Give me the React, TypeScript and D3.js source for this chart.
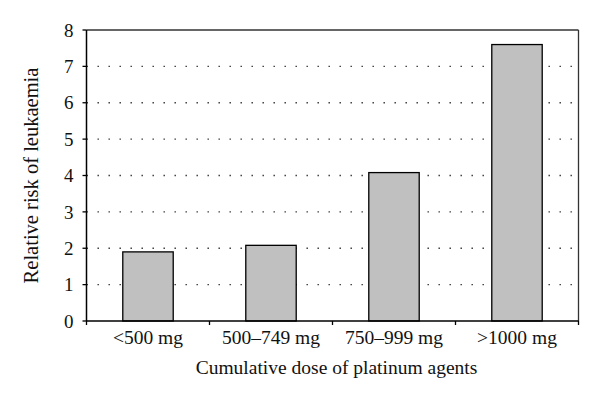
import React from "react";
import * as d3 from "d3";

const categories = ["<500 mg", "500–749 mg", "750–999 mg", ">1000 mg"];
const values = [1.9, 2.08, 4.08, 7.6];
const yTicks = [0, 1, 2, 3, 4, 5, 6, 7, 8];

export default function App() {
  const W = 600, H = 402;
  const left = 86.5, right = 578.5, top = 30, bottom = 321;
  const x = d3.scaleBand<string>().domain(categories).range([left, right]).paddingInner(0.59).paddingOuter(0.295);
  const xb = d3.scaleBand<string>().domain(categories).range([left, right]);
  const y = d3.scaleLinear().domain([0, 8]).range([bottom, top]);
  const font = "'Liberation Serif', 'DejaVu Serif', serif";
  return (
    <svg width={W} height={H} style={{ position: "absolute", left: 0, top: 0, background: "#fff" }}>
      {yTicks.filter(t => t > 0 && t < 8).map(t => (
        <line key={"g" + t} x1={left} x2={right} y1={y(t)} y2={y(t)} stroke="#333" strokeWidth={1.4} strokeDasharray="1.4,9.6" />
      ))}
      {categories.map((c, i) => (
        <rect key={c} x={x(c)} y={y(values[i])} width={x.bandwidth()} height={bottom - y(values[i])} fill="#c0c0c0" stroke="#000" strokeWidth={1.3} />
      ))}
      <line x1={left} x2={right} y1={top} y2={top} stroke="#333" strokeWidth={1.3} />
      <line x1={right} x2={right} y1={top} y2={bottom} stroke="#333" strokeWidth={1.3} />
      <line x1={left} x2={left} y1={top} y2={bottom} stroke="#000" strokeWidth={1.5} />
      <line x1={left} x2={right} y1={bottom} y2={bottom} stroke="#000" strokeWidth={1.5} />
      {yTicks.map(t => (
        <g key={"t" + t}>
          <line x1={left - 4} x2={left} y1={y(t)} y2={y(t)} stroke="#000" strokeWidth={1.3} />
          <text x={left - 13} y={y(t)} dy="0.35em" textAnchor="end" fontFamily={font} fontSize={19} fill="#111">{t}</text>
        </g>
      ))}
      {categories.map((c, i) => (
        <line key={"xt" + i} x1={(xb(c) as number)} x2={(xb(c) as number)} y1={bottom} y2={bottom + 4} stroke="#000" strokeWidth={1.3} />
      ))}
      <line x1={right} x2={right} y1={bottom} y2={bottom + 4} stroke="#000" strokeWidth={1.3} />
      {categories.map(c => (
        <text key={"xl" + c} x={(xb(c) as number) + xb.bandwidth() / 2} y={344} textAnchor="middle" fontFamily={font} fontSize={19.5} fill="#111">{c}</text>
      ))}
      <text x={(left + right) / 2 + 4} y={374} textAnchor="middle" fontFamily={font} fontSize={19.5} fill="#111">Cumulative dose of platinum agents</text>
      <text transform={`translate(38,${(top + bottom) / 2}) rotate(-90)`} textAnchor="middle" fontFamily={font} fontSize={20.5} fill="#111">Relative risk of leukaemia</text>
    </svg>
  );
}
